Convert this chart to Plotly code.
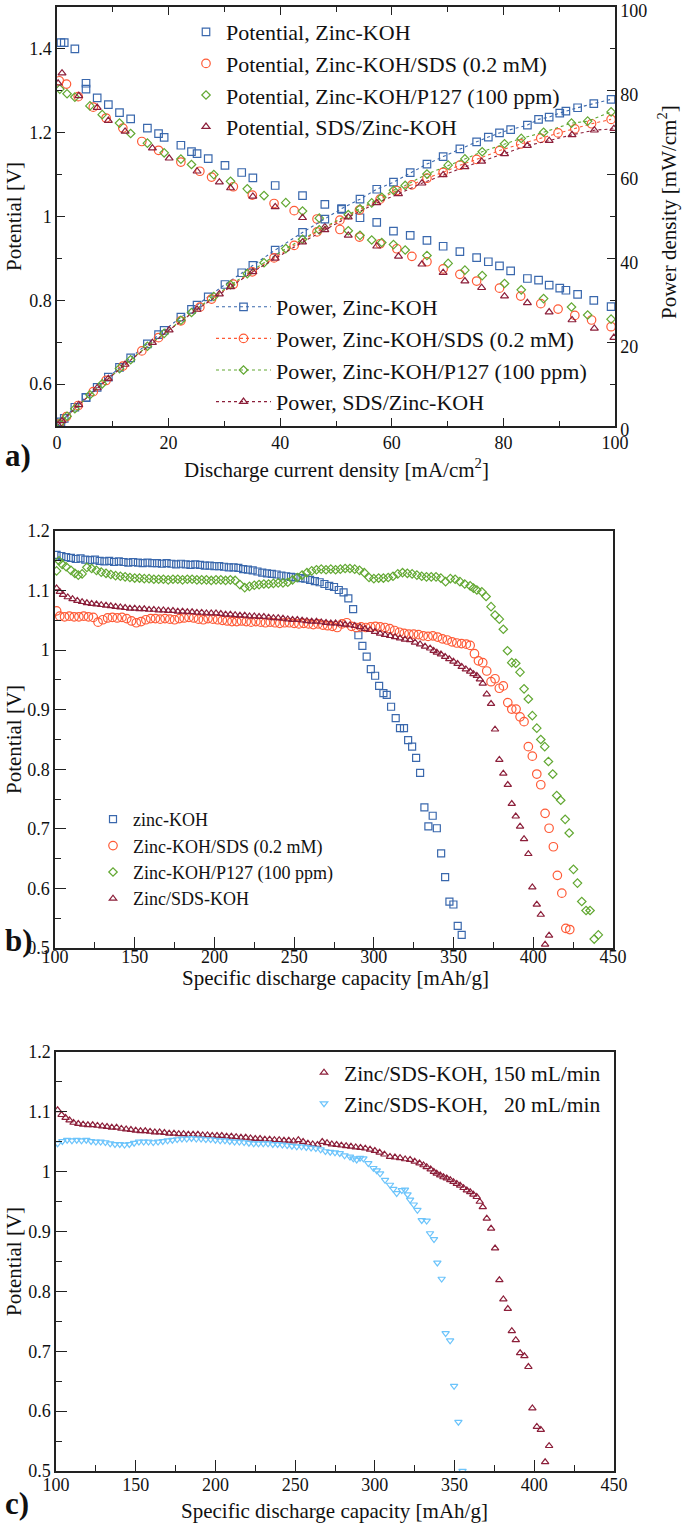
import plotly.graph_objects as go

W, H = 685, 1526
FONT = "'Liberation Serif', 'Times New Roman', Times, serif"

C_KOH = "#3a68ad"
C_SDS = "#ff5a36"
C_P127 = "#62a832"
C_SDSZ = "#8c1f3a"
C_LOW = "#6cc4fb"

# ---------------- panel a : polarization ----------------
a_cur_koh = [0.7, 1.3, 3.2, 5.2, 5.2, 7.2, 9.2, 11.2, 13.2, 16.2, 18.2, 19.2, 22.2, 24.1, 25.1, 27.1, 30.1, 33.1, 35.1, 39.1, 44.0, 48.0, 51.0, 54.3, 57.3, 60.3, 63.3, 66.3, 69.2, 72.2, 75.2, 77.3, 79.3, 81.3, 84.3, 86.3, 88.2, 90.1, 91.2, 93.3, 96.2, 99.3]
a_pot_koh = [1.415, 1.415, 1.400, 1.318, 1.304, 1.283, 1.267, 1.248, 1.233, 1.211, 1.198, 1.189, 1.170, 1.155, 1.150, 1.138, 1.122, 1.105, 1.092, 1.074, 1.050, 1.029, 1.017, 0.997, 0.986, 0.965, 0.955, 0.943, 0.929, 0.916, 0.902, 0.892, 0.882, 0.870, 0.852, 0.848, 0.836, 0.829, 0.824, 0.814, 0.800, 0.785]
a_pow_koh = [0.99, 1.84, 4.48, 6.85, 6.78, 9.24, 11.66, 13.98, 16.28, 19.62, 21.80, 22.83, 25.97, 27.84, 28.87, 30.84, 33.77, 36.58, 38.33, 41.99, 46.20, 49.39, 51.87, 54.14, 56.50, 58.19, 60.45, 62.52, 64.29, 66.14, 67.83, 68.95, 69.94, 70.73, 71.82, 73.18, 73.74, 74.69, 75.15, 75.95, 76.96, 77.95]

a_cur_sds = [0.4, 1.7, 3.8, 6.5, 8.8, 11.8, 15.2, 18.2, 22.2, 25.6, 27.7, 31.6, 35.0, 38.9, 42.5, 46.6, 50.7, 54.2, 57.9, 60.9, 63.6, 66.3, 69.2, 72.2, 75.2, 79.3, 83.1, 86.7, 89.8, 92.8, 95.8, 99.3]
a_pot_sds = [1.324, 1.316, 1.286, 1.261, 1.235, 1.211, 1.179, 1.158, 1.130, 1.108, 1.094, 1.071, 1.051, 1.031, 1.014, 0.994, 0.969, 0.951, 0.935, 0.923, 0.905, 0.892, 0.875, 0.862, 0.846, 0.829, 0.810, 0.792, 0.779, 0.764, 0.753, 0.737]
a_pow_sds = [0.53, 2.24, 4.89, 8.20, 10.87, 14.29, 17.92, 21.08, 25.09, 28.36, 30.30, 33.84, 36.79, 40.11, 43.10, 46.32, 49.13, 51.54, 54.14, 56.21, 57.56, 59.14, 60.55, 62.24, 63.62, 65.74, 67.31, 68.67, 69.95, 70.90, 72.14, 73.18]

a_cur_p127 = [0.5, 1.8, 3.2, 5.9, 8.1, 11.2, 13.2, 16.2, 19.2, 22.2, 24.1, 28.1, 31.1, 34.1, 37.1, 41.0, 44.0, 47.0, 52.2, 54.3, 56.4, 58.2, 60.3, 62.4, 66.3, 70.1, 73.1, 76.2, 80.2, 83.2, 87.2, 92.2, 95.1, 99.3]
a_pot_p127 = [1.304, 1.293, 1.285, 1.264, 1.243, 1.223, 1.198, 1.175, 1.152, 1.137, 1.124, 1.100, 1.084, 1.066, 1.050, 1.033, 1.013, 0.996, 0.966, 0.955, 0.944, 0.938, 0.933, 0.920, 0.907, 0.888, 0.872, 0.859, 0.840, 0.825, 0.804, 0.784, 0.765, 0.755]
a_pow_p127 = [0.65, 2.33, 4.11, 7.46, 10.07, 13.70, 15.81, 19.04, 22.12, 25.24, 27.09, 30.91, 33.71, 36.35, 38.96, 42.35, 44.57, 46.81, 50.43, 51.86, 53.24, 54.59, 56.26, 57.41, 60.13, 62.25, 63.74, 65.46, 67.37, 68.64, 70.11, 72.28, 72.75, 74.97]

a_cur_sdsz = [0.2, 0.9, 3.9, 7.2, 9.2, 12.2, 17.1, 20.1, 25.1, 29.1, 31.1, 35.1, 39.1, 44.0, 48.0, 52.2, 57.3, 61.2, 65.4, 69.2, 73.1, 76.1, 80.2, 84.3, 88.2, 92.3, 96.3, 99.8]
a_pot_sdsz = [1.318, 1.342, 1.288, 1.260, 1.229, 1.203, 1.163, 1.139, 1.108, 1.082, 1.068, 1.048, 1.023, 0.997, 0.975, 0.955, 0.929, 0.905, 0.886, 0.866, 0.846, 0.830, 0.810, 0.794, 0.772, 0.753, 0.733, 0.711]
a_pow_sdsz = [0.26, 1.21, 5.02, 9.07, 11.31, 14.68, 19.89, 22.89, 27.81, 31.49, 33.21, 36.78, 40.00, 43.87, 46.80, 49.85, 53.23, 55.39, 57.94, 59.93, 61.84, 63.16, 64.96, 66.93, 68.09, 69.50, 70.59, 70.96]

# ---------------- panel b : discharge ----------------
b_cap_koh = [101, 104, 107, 110, 113, 116, 119, 122, 125, 128, 131, 134, 137, 140, 143, 146, 149, 152, 155, 158, 161, 164, 167, 170, 173, 176, 179, 182, 185, 188, 191, 194, 197, 200, 203, 206, 209, 212, 215, 218, 221, 224, 227, 230, 233, 236, 239, 242, 245, 248, 251, 254, 257, 260, 263, 266, 269, 272, 275, 278, 281, 284, 287,
             290.3, 292.8, 295.5, 298.1, 300.8, 303.3, 306.0, 308.1, 310.8, 313.7, 316.4, 318.9, 321.5, 324.0, 326.5, 329.0, 331.7, 334.2, 336.9, 339.5, 342.2, 344.7, 347.4, 349.9, 352.6, 355.1]
b_pot_koh = [1.160, 1.158, 1.156, 1.155, 1.153, 1.154, 1.152, 1.151, 1.152, 1.150, 1.149, 1.150, 1.148, 1.149, 1.148, 1.147, 1.148, 1.147, 1.146, 1.147, 1.146, 1.146, 1.145, 1.146, 1.145, 1.144, 1.145, 1.144, 1.143, 1.144, 1.143, 1.142, 1.142, 1.141, 1.141, 1.140, 1.139, 1.139, 1.138, 1.136, 1.135, 1.134, 1.132, 1.130, 1.129, 1.128, 1.127, 1.125, 1.124, 1.123, 1.122, 1.121, 1.120, 1.118, 1.116, 1.114, 1.111, 1.108, 1.106, 1.101, 1.097, 1.087, 1.069,
             1.025, 1.007, 0.989, 0.968, 0.957, 0.940, 0.928, 0.925, 0.905, 0.886, 0.869, 0.869, 0.849, 0.838, 0.819, 0.794, 0.736, 0.704, 0.722, 0.701, 0.659, 0.619, 0.578, 0.573, 0.537, 0.522]

b_cap_sds = [101, 103, 106, 109, 112, 115, 118, 121, 124, 127, 130, 133, 136, 139, 142, 145, 148, 151, 154, 157, 160, 163, 166, 169, 172, 175, 178, 181, 184, 187, 190, 193, 196, 199, 202, 205, 208, 211, 214, 217, 220, 223, 226, 229, 232, 235, 238, 241, 244, 247, 250, 253, 256, 259, 262, 265, 268, 271, 274, 277, 280, 283, 286, 289, 292, 295, 298, 301, 304, 307, 310, 313, 316, 319, 322, 325, 328, 331, 334, 337, 340, 343, 346, 349, 352, 355, 358,
             360.4, 363.1, 365.6, 368.3, 370.8, 373.5, 376.0, 378.7, 381.2, 384.0, 386.5, 389.2, 391.7, 394.2, 396.9, 399.4, 402.2, 404.7, 407.4, 409.9, 412.6, 415.1, 417.9, 420.4, 422.9]
b_pot_sds = [1.066, 1.057, 1.056, 1.057, 1.056, 1.056, 1.057, 1.056, 1.055, 1.047, 1.051, 1.054, 1.055, 1.054, 1.055, 1.053, 1.049, 1.046, 1.048, 1.051, 1.053, 1.053, 1.052, 1.053, 1.052, 1.051, 1.053, 1.054, 1.055, 1.054, 1.052, 1.051, 1.053, 1.052, 1.051, 1.050, 1.049, 1.048, 1.048, 1.049, 1.048, 1.047, 1.048, 1.047, 1.046, 1.047, 1.046, 1.045, 1.046, 1.046, 1.045, 1.044, 1.045, 1.044, 1.043, 1.044, 1.042, 1.041, 1.040, 1.038, 1.044, 1.046, 1.040, 1.038, 1.039, 1.038, 1.039, 1.040, 1.039, 1.038, 1.036, 1.033, 1.030, 1.028, 1.027, 1.027, 1.026, 1.024, 1.023, 1.024, 1.022, 1.019, 1.017, 1.014, 1.012, 1.011, 1.010,
             1.008, 0.994, 0.982, 0.979, 0.965, 0.947, 0.952, 0.936, 0.940, 0.912, 0.901, 0.901, 0.888, 0.880, 0.838, 0.822, 0.792, 0.774, 0.726, 0.701, 0.670, 0.622, 0.592, 0.533, 0.531]

b_cap_p127 = [101, 102.5, 104.5, 107, 110, 112.5, 114.6, 117,
              120, 123, 126, 129, 132, 135, 138, 141, 144, 147, 150, 153, 156, 159, 162, 165, 168, 171, 174, 177, 180, 183, 186, 189, 192, 195, 198, 201, 204, 207, 210, 213, 216, 219, 222, 225, 228, 231, 234, 237, 240, 243, 246, 249, 252, 255, 258, 261, 264, 267, 270, 273, 276, 279, 282, 285, 288, 291, 294, 297, 300, 303, 306, 309, 312, 315, 318, 321, 324, 327, 330, 333, 336, 339, 342, 345, 348, 351, 354, 357,
              360.4, 362.5, 364.6, 367.7, 370.4, 373.5, 376.0, 378.7, 381.2, 383.8, 386.5, 389.0, 391.7, 394.2, 396.9, 399.4, 402.2, 404.7, 407.2, 409.5, 412.2, 414.7, 417.2, 420.0, 422.5, 425.2, 427.7, 430.4, 433.1, 435.6, 438.2, 440.8]
b_pot_p127 = [1.133, 1.150, 1.144, 1.140, 1.134, 1.129, 1.126, 1.128,
              1.139, 1.137, 1.134, 1.131, 1.129, 1.127, 1.125, 1.124, 1.123, 1.122, 1.121, 1.121, 1.120, 1.120, 1.119, 1.119, 1.119, 1.118, 1.119, 1.119, 1.118, 1.119, 1.119, 1.118, 1.118, 1.118, 1.117, 1.118, 1.118, 1.117, 1.118, 1.117, 1.110, 1.105, 1.107, 1.109, 1.110, 1.111, 1.111, 1.112, 1.113, 1.113, 1.114, 1.118, 1.122, 1.126, 1.130, 1.133, 1.135, 1.136, 1.135, 1.136, 1.135, 1.136, 1.137, 1.137, 1.136, 1.134, 1.130, 1.122, 1.120, 1.121, 1.121, 1.122, 1.124, 1.128, 1.130, 1.129, 1.128, 1.126, 1.124, 1.123, 1.123, 1.123, 1.121, 1.115, 1.120, 1.119, 1.115, 1.111,
              1.108, 1.104, 1.101, 1.098, 1.090, 1.073, 1.059, 1.052, 1.035, 0.999, 0.979, 0.978, 0.963, 0.935, 0.918, 0.890, 0.869, 0.850, 0.838, 0.813, 0.792, 0.756, 0.748, 0.716, 0.693, 0.632, 0.609, 0.578, 0.563, 0.563, 0.515, 0.522]

b_cap_sdsz = [101, 103, 105, 108, 111, 114, 117, 120, 123, 126, 129, 132, 135, 138, 141, 144, 147, 150, 153, 156, 159, 162, 165, 168, 171, 174, 177, 180, 183, 186, 189, 192, 195, 198, 201, 204, 207, 210, 213, 216, 219, 222, 225, 228, 231, 234, 237, 240, 243, 246, 249, 252, 255, 258, 261, 264, 267, 270, 273, 276, 279, 282, 285, 288,
              291.3, 294.4, 297.6, 300.7, 303.9, 307.0, 310.2, 313.3, 316.4, 319.5, 322.7, 325.8, 329.0, 332.1, 335.3, 337.5, 339.5, 342.1, 344.7, 347.3, 349.9, 352.5, 355.1, 357.7, 360.4, 362.5, 364.6, 366.5, 368.3, 370.8, 373.5, 376.0, 378.7, 381.2, 384.0, 386.5, 389.0, 391.7, 394.2, 396.9, 399.4, 402.2, 404.7, 407.4, 409.9]
b_pot_sdsz = [1.104, 1.098, 1.093, 1.089, 1.086, 1.083, 1.081, 1.079, 1.078, 1.077, 1.076, 1.075, 1.074, 1.073, 1.072, 1.071, 1.070, 1.070, 1.069, 1.069, 1.068, 1.068, 1.067, 1.067, 1.066, 1.066, 1.065, 1.065, 1.064, 1.064, 1.063, 1.063, 1.062, 1.062, 1.062, 1.061, 1.060, 1.060, 1.059, 1.058, 1.058, 1.057, 1.057, 1.056, 1.056, 1.055, 1.054, 1.054, 1.053, 1.052, 1.051, 1.051, 1.050, 1.049, 1.048, 1.048, 1.047, 1.046, 1.045, 1.045, 1.044, 1.043, 1.042, 1.041,
              1.039, 1.036, 1.034, 1.031, 1.028, 1.026, 1.024, 1.022, 1.020, 1.018, 1.017, 1.013, 1.010, 1.006, 1.003, 0.999, 0.996, 0.993, 0.989, 0.985, 0.981, 0.977, 0.972, 0.968, 0.964, 0.960, 0.957, 0.951, 0.944, 0.926, 0.910, 0.867, 0.816, 0.793, 0.774, 0.742, 0.721, 0.704, 0.683, 0.658, 0.602, 0.573, 0.556, 0.506, 0.521]

# ---------------- panel c : flow rate ----------------
c_cap_150 = [101, 103.5, 106, 108.5, 111, 114, 117, 120, 123, 126, 129, 132, 135, 138, 141, 144, 147, 150, 153, 156, 159, 162, 165, 168, 171, 174, 177, 180, 183, 186, 189, 192, 195, 198, 201, 204, 207, 210, 213, 216, 219, 222, 225, 228, 231, 234, 237, 240, 243, 246, 249, 252, 255, 258, 261, 264, 267, 270, 273, 276, 279, 282, 285, 288, 291, 294, 297, 300, 303, 306,
             309.5, 312.6, 315.8, 319.0, 322.1, 325.0, 328.0, 330.5, 332.5, 335.0, 337.0, 338.8, 341.0, 343.0, 345.1, 347.3, 349.3, 351.4, 353.5, 355.6, 357.7, 359.8, 361.8, 363.9, 365.8, 367.7, 370.2, 372.9, 375.4, 378.1, 380.6, 383.4, 385.9, 388.4, 391.1, 393.8, 396.3, 398.8, 401.6, 404.1, 406.8, 409.3]
c_pot_150 = [1.103, 1.095, 1.090, 1.086, 1.082, 1.080, 1.079, 1.078, 1.078, 1.077, 1.076, 1.075, 1.074, 1.074, 1.072, 1.071, 1.070, 1.069, 1.068, 1.068, 1.067, 1.066, 1.066, 1.065, 1.064, 1.064, 1.063, 1.063, 1.062, 1.062, 1.062, 1.061, 1.061, 1.060, 1.060, 1.060, 1.059, 1.059, 1.058, 1.057, 1.057, 1.056, 1.055, 1.055, 1.054, 1.054, 1.053, 1.053, 1.052, 1.052, 1.051, 1.053, 1.050, 1.047, 1.046, 1.045, 1.050, 1.048, 1.046, 1.045, 1.044, 1.043, 1.042, 1.041, 1.040, 1.039, 1.037, 1.035, 1.032, 1.029,
             1.025, 1.024, 1.023, 1.021, 1.020, 1.017, 1.014, 1.011, 1.008, 1.004, 1.000, 0.997, 0.994, 0.991, 0.989, 0.986, 0.983, 0.980, 0.977, 0.973, 0.969, 0.966, 0.962, 0.958, 0.950, 0.941, 0.922, 0.905, 0.872, 0.819, 0.787, 0.771, 0.734, 0.719, 0.697, 0.692, 0.674, 0.605, 0.574, 0.569, 0.515, 0.542]

c_cap_20 = [101, 104, 107, 110, 113, 116, 119, 122, 125, 128, 131, 134, 137, 140, 143, 146, 149, 152, 155, 158, 161, 164, 167, 170, 173, 176, 179, 182, 185, 188, 191, 194, 197, 200, 203, 206, 209, 212, 215, 218, 221, 224, 227, 230, 233, 236, 239, 242, 245, 248, 251, 254, 257, 260, 263, 266, 269, 272, 275, 278, 281,
            284.4, 286.5, 288.6, 290.7, 292.8, 295.9, 299.1, 301.2, 303.3, 306.4, 309.5, 311.6, 313.7, 316.9, 318.9, 320.5, 322.1, 324.4, 326.7, 329.4, 332.5, 334.6, 337.1, 339.2, 341.9, 344.4, 347.2, 349.7, 352.4, 355.0]
c_pot_20 = [1.047, 1.051, 1.053, 1.052, 1.053, 1.052, 1.053, 1.051, 1.050, 1.050, 1.049, 1.047, 1.046, 1.046, 1.045, 1.046, 1.048, 1.050, 1.050, 1.050, 1.049, 1.050, 1.051, 1.052, 1.053, 1.054, 1.055, 1.055, 1.056, 1.055, 1.055, 1.054, 1.054, 1.053, 1.052, 1.052, 1.051, 1.050, 1.050, 1.049, 1.048, 1.047, 1.047, 1.047, 1.047, 1.046, 1.046, 1.045, 1.044, 1.043, 1.042, 1.042, 1.041, 1.040, 1.039, 1.037, 1.034, 1.033, 1.032, 1.031, 1.027,
            1.025, 1.022, 1.020, 1.023, 1.022, 1.014, 1.006, 1.002, 0.997, 0.986, 0.978, 0.971, 0.964, 0.969, 0.970, 0.962, 0.953, 0.945, 0.936, 0.919, 0.918, 0.897, 0.887, 0.848, 0.821, 0.730, 0.718, 0.642, 0.582, 0.500]

# ---------------- tick labels ----------------
a_x_ticks = [0, 20, 40, 60, 80, 100]
a_y_ticks = [0.6, 0.8, 1.0, 1.2, 1.4]
a_y_text = ["0.6", "0.8", "1", "1.2", "1.4"]
a_y2_ticks = [0, 20, 40, 60, 80, 100]
bc_x_ticks = [100, 150, 200, 250, 300, 350, 400, 450]
bc_y_ticks = [0.5, 0.6, 0.7, 0.8, 0.9, 1.0, 1.1, 1.2]
bc_y_text = ["0.5", "0.6", "0.7", "0.8", "0.9", "1", "1.1", "1.2"]


def fx(p):
    return p / W


def fy(p):
    return 1 - p / H


fig = go.Figure()


def mk(symbol, color, size, width=1.2):
    return dict(symbol=symbol, size=size, color=color,
                line=dict(color=color, width=width))


# panel a potentials
pot_series = [
    (a_cur_koh, a_pot_koh, "Potential, Zinc-KOH", "square-open", C_KOH, 7.5),
    (a_cur_sds, a_pot_sds, "Potential, Zinc-KOH/SDS (0.2 mM)", "circle-open", C_SDS, 8.5),
    (a_cur_p127, a_pot_p127, "Potential, Zinc-KOH/P127 (100 ppm)", "diamond-open", C_P127, 6.5),
    (a_cur_sdsz, a_pot_sdsz, "Potential, SDS/Zinc-KOH", "triangle-up-open", C_SDSZ, 7),
]
for xs, ys, name, sym, col, sz in pot_series:
    fig.add_trace(go.Scatter(x=xs, y=ys, mode="markers", name=name,
                             marker=mk(sym, col, sz), xaxis="x", yaxis="y",
                             legend="legend"))

pow_series = [
    (a_cur_koh, a_pow_koh, "Power, Zinc-KOH", "square-open", C_KOH, 7.5),
    (a_cur_sds, a_pow_sds, "Power, Zinc-KOH/SDS (0.2 mM)", "circle-open", C_SDS, 8.5),
    (a_cur_p127, a_pow_p127, "Power, Zinc-KOH/P127 (100 ppm)", "diamond-open", C_P127, 6.5),
    (a_cur_sdsz, a_pow_sdsz, "Power, SDS/Zinc-KOH", "triangle-up-open", C_SDSZ, 7),
]
for xs, ys, name, sym, col, sz in pow_series:
    fig.add_trace(go.Scatter(x=xs, y=ys, mode="lines+markers", name=name,
                             marker=mk(sym, col, sz),
                             line=dict(color=col, width=1.1, dash="dot"),
                             xaxis="x", yaxis="y2", legend="legend2"))

# panel b
b_series = [
    (b_cap_koh, b_pot_koh, "zinc-KOH", "square-open", C_KOH, 7),
    (b_cap_sds, b_pot_sds, "Zinc-KOH/SDS (0.2 mM)", "circle-open", C_SDS, 8.5),
    (b_cap_p127, b_pot_p127, "Zinc-KOH/P127 (100 ppm)", "diamond-open", C_P127, 6.5),
    (b_cap_sdsz, b_pot_sdsz, "Zinc/SDS-KOH", "triangle-up-open", C_SDSZ, 6.5),
]
for xs, ys, name, sym, col, sz in b_series:
    fig.add_trace(go.Scatter(x=xs, y=ys, mode="markers", name=name,
                             marker=mk(sym, col, sz), xaxis="x2", yaxis="y3",
                             legend="legend3"))

# panel c
c_series = [
    (c_cap_150, c_pot_150, "Zinc/SDS-KOH, 150 mL/min", "triangle-up-open", C_SDSZ, 6.5),
    (c_cap_20, c_pot_20, "Zinc/SDS-KOH,\u00a0\u00a0\u00a020 mL/min", "triangle-down-open", C_LOW, 6.5),
]
for xs, ys, name, sym, col, sz in c_series:
    fig.add_trace(go.Scatter(x=xs, y=ys, mode="markers", name=name,
                             marker=mk(sym, col, sz), xaxis="x3", yaxis="y4",
                             legend="legend4"))

TICKFONT = dict(family=FONT, size=18, color="#111")
LINE = dict(showline=True, linecolor="#222", linewidth=1.5, showgrid=False,
            zeroline=False, ticks="inside", tickcolor="#222", tickfont=TICKFONT,
            automargin=False, ticklabeloverflow="allow")

fig.update_layout(
    template="none",
    width=W, height=H,
    margin=dict(l=0, r=0, t=0, b=0, pad=0),
    paper_bgcolor="white", plot_bgcolor="white",
    font=dict(family=FONT, color="#111"),
    xaxis=dict(domain=[fx(57), fx(615)], anchor="y", range=[0, 100],
               tickvals=a_x_ticks, ticklen=8, tickwidth=1.3, mirror="ticks",
               minor=dict(dtick=10, tick0=0, ticks="inside", ticklen=5, tickcolor="#222"),
               **LINE),
    yaxis=dict(domain=[fy(426), fy(7)], anchor="x", range=[0.5, 1.5],
               tickvals=a_y_ticks, ticktext=a_y_text, ticklen=8, tickwidth=1.3,
               minor=dict(dtick=0.1, tick0=0.5, ticks="inside", ticklen=5, tickcolor="#222"),
               **LINE),
    yaxis2=dict(overlaying="y", side="right", anchor="x", range=[0, 100],
                tickvals=a_y2_ticks, ticklen=8, tickwidth=1.3, ticklabelshift=4,
                minor=dict(dtick=10, tick0=0, ticks="inside", ticklen=5, tickcolor="#222"),
                **LINE),
    xaxis2=dict(domain=[fx(55), fx(613)], anchor="y3", range=[100, 450],
                tickvals=bc_x_ticks, ticklen=11, tickwidth=1.3, mirror=True,
                ticklabelstandoff=-8,
                minor=dict(dtick=25, tick0=100, ticks="inside", ticklen=6, tickcolor="#222"),
                **LINE),
    yaxis3=dict(domain=[fy(948), fy(531)], anchor="x2", range=[0.5, 1.2],
                tickvals=bc_y_ticks, ticktext=bc_y_text, ticklen=11, tickwidth=1.3, mirror=True,
                minor=dict(dtick=0.05, tick0=0.5, ticks="inside", ticklen=6, tickcolor="#222"),
                **LINE),
    xaxis3=dict(domain=[fx(56), fx(614)], anchor="y4", range=[100, 450],
                tickvals=bc_x_ticks, ticklen=11, tickwidth=1.3, mirror=True,
                ticklabelstandoff=-3,
                minor=dict(dtick=25, tick0=100, ticks="inside", ticklen=6, tickcolor="#222"),
                **LINE),
    yaxis4=dict(domain=[fy(1471), fy(1052)], anchor="x3", range=[0.5, 1.2],
                tickvals=bc_y_ticks, ticktext=bc_y_text, ticklen=11, tickwidth=1.3, mirror=True,
                minor=dict(dtick=0.05, tick0=0.5, ticks="inside", ticklen=6, tickcolor="#222"),
                **LINE),
    legend=dict(x=fx(186), y=fy(11), xanchor="left", yanchor="top",
                bgcolor="rgba(0,0,0,0)", font=dict(family=FONT, size=22, color="#111"),
                tracegroupgap=0),
    legend2=dict(x=fx(211), y=fy(286), xanchor="left", yanchor="top",
                 bgcolor="rgba(0,0,0,0)", font=dict(family=FONT, size=22, color="#111"),
                 tracegroupgap=0, itemwidth=55),
    legend3=dict(x=fx(93), y=fy(801), xanchor="left", yanchor="top",
                 bgcolor="rgba(0,0,0,0)", font=dict(family=FONT, size=18, color="#111"),
                 tracegroupgap=0),
    legend4=dict(x=fx(304), y=fy(1052), xanchor="left", yanchor="top",
                 bgcolor="rgba(0,0,0,0)", font=dict(family=FONT, size=21.5, color="#111"),
                 tracegroupgap=0),
)

TITLE = dict(family=FONT, size=21, color="#111")
ann = [
    dict(text="Discharge current density [mA/cm<sup>2</sup>]", x=fx(336), y=fy(468)),
    dict(text="Potential [V]", x=fx(14), y=fy(217), textangle=-90),
    dict(text="Power density [mW/cm<sup>2</sup>]", x=fx(668), y=fy(212), textangle=-90),
    dict(text="Specific discharge capacity [mAh/g]", x=fx(335), y=fy(978)),
    dict(text="Potential [V]", x=fx(14), y=fy(740), textangle=-90),
    dict(text="Specific discharge capacity [mAh/g]", x=fx(334), y=fy(1511)),
    dict(text="Potential [V]", x=fx(14), y=fy(1262), textangle=-90),
]
for a in ann:
    fig.add_annotation(xref="paper", yref="paper", showarrow=False,
                       xanchor="center", yanchor="middle", font=TITLE, **a)

for lab, yc in [("a)", 455), ("b)", 940), ("c)", 1503)]:
    fig.add_annotation(xref="paper", yref="paper", showarrow=False,
                       text="<b>" + lab + "</b>", x=fx(3), y=fy(yc),
                       xanchor="left", yanchor="middle",
                       font=dict(family=FONT, size=31, color="#111"))

fig.write_html(
    "out.html",
    config={"displayModeBar": False},
    post_script="document.body.style.margin='0px';document.body.style.overflow='hidden';",
)
